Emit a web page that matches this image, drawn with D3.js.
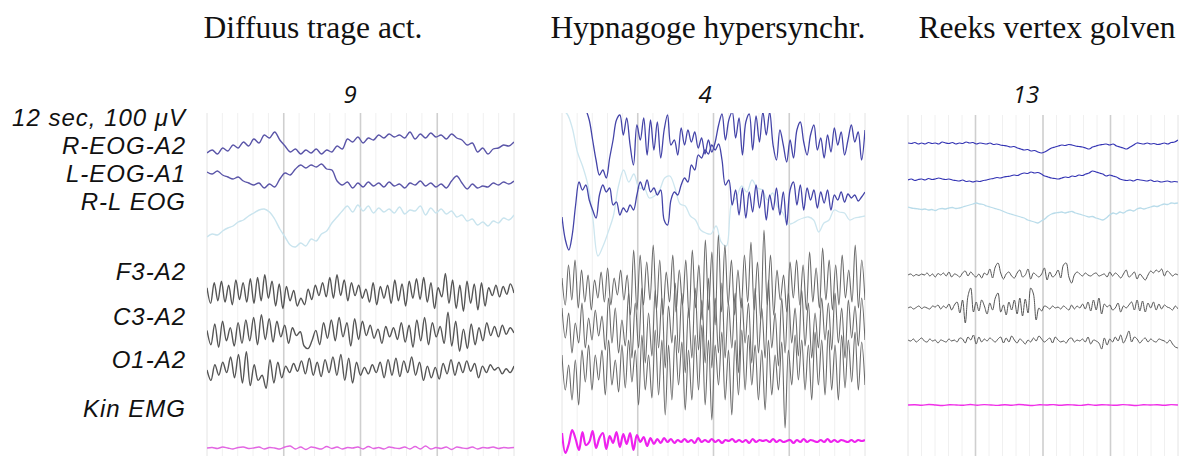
<!DOCTYPE html>
<html>
<head>
<meta charset="utf-8">
<script src="https://cdn.jsdelivr.net/npm/d3@7"></script>
<style>
  body { margin: 0; background: #fff; }
  svg { display: block; }
</style>
</head>
<body>
<div id="chart"></div>
<script>
// titles, counts and channel labels
var titles = ["Diffuus trage act.", "Hypnagoge hypersynchr.", "Reeks vertex golven"];
var counts = ["9", "4", "13"];
var channelLabels = ["12 sec, 100 μV", "R-EOG-A2", "L-EOG-A1", "R-L EOG", "F3-A2", "C3-A2", "O1-A2", "Kin EMG"];

// panel 1 - diffuus trage activiteit (values in display units, up = positive)
var p1_REOG = [-5,-2,-6,0,-3,3,0,6,2,9,5,13,10,16,8,2,-4,-1,-6,-2,-5,-1,-6,-2,-4,2,-1,9,6,11,5,10,8,13,10,14,11,13,10,16,9,14,10,15,11,13,9,14,10,8,3,5,-4,0,-6,-1,0,3,2,6];
var p1_LEOG = [3,1,4,0,-2,-4,-2,-6,-8,-10,-8,-13,-9,-12,-4,2,0,6,10,7,10,8,11,6,5,-6,-10,-7,-13,-8,-12,-7,-11,-8,-12,-7,-11,-9,-13,-8,-10,-6,-11,-8,-12,-9,-13,-6,-1,-8,-14,-9,-13,-11,-12,-8,-10,-7,-9,-6];
var p1_RL = [-12,-9,-10,-6,-3,-1,3,5,9,12,15,16,13,6,-4,-12,-20,-22,-18,-21,-14,-16,-9,-6,2,8,14,19,13,20,14,19,12,17,13,16,12,18,11,15,14,19,10,17,12,16,11,14,8,10,4,6,0,3,-1,4,2,7,5,10];
var p1_F3 = [4,-8,8,-6,9,-7,6,-9,10,-5,8,-7,11,-8,12,-6,14,-4,9,-10,7,-12,5,-6,2,-10,-4,-9,3,-5,6,-2,8,-3,12,-4,14,-2,10,-6,8,-2,6,-4,3,-7,8,-9,5,-4,6,-8,10,-6,7,-10,9,-4,11,-5,12,-7,8,-12,4,-3,15,-8,10,-12,6,-14,9,-8,7,-13,8,-10,4,-2,6,-3,5,-1,7,0];
var p1_C3 = [2,-9,7,-11,9,-6,4,-10,8,-8,10,-6,12,-9,14,-5,11,-7,9,-3,6,-8,4,-2,1,-10,-12,-6,2,-9,8,-4,10,-6,12,-3,8,-10,11,-5,9,-2,6,-4,3,-8,5,-3,4,-5,8,-7,6,-11,10,-6,12,-9,8,-3,5,-8,16,-10,9,-14,3,-12,7,-9,4,-6,8,-2,5,-3,6,-1,4,0];
var p1_O1 = [0,-8,4,-4,6,-2,10,-6,12,-10,14,-12,4,-8,-4,-14,8,-10,6,-6,3,-2,5,-1,7,-3,9,-4,6,-5,8,-2,10,-4,12,-8,9,-10,6,-4,2,-3,4,-2,6,-6,8,-4,9,-5,7,-2,10,-4,6,-8,3,-6,2,-7,5,-3,8,-4,6,-2,7,-1,5,-6,3,-2,4,0,2,-3,1,-2,3];
var p1_EMG = [0,0.5,-0.5,1,0,-1,0.5,1,-0.5,0,1,-1,0.5,0,-1,1,2,-1,1,-1.5,1,0,-1,1.5,-0.5,1,-1,0.5,0,1,-1,1.5,-0.5,0.5,-1,1,0,-0.5,1,-1,1.5,-1,2,-1,0.5,-0.5,1,-1.5,1,0,-0.5,1,-1,0.5,0,1,-0.5,0.5,0,0.5];

// panel 2 - hypnagoge hypersynchronie
var p2_REOG = [60,55,60,50,58,52,45,40,30,10,-10,-25,-20,-28,-8,10,30,35,15,32,5,-15,25,10,32,-5,30,0,28,-8,20,35,5,10,-5,22,5,20,8,18,2,12,-4,10,-2,8,25,36,10,30,38,12,32,-5,28,36,0,34,8,38,15,38,5,-10,20,5,-12,10,-8,20,28,8,-5,15,25,0,12,-8,15,-2,22,5,18,-5,10,25,8,18,-10,20];
var p2_LEOG = [-17,-40,-50,-35,-5,18,10,15,0,-10,-18,5,15,8,12,-5,-2,-15,-8,-12,-5,-10,5,18,10,20,8,12,5,10,-20,-25,0,8,5,15,22,18,35,30,45,42,50,46,55,50,56,40,15,20,-5,10,-15,12,-18,8,-12,15,-8,10,-20,5,-10,12,-15,8,-25,10,18,-5,15,-10,12,0,10,-8,8,-3,10,-10,5,0,8,-2,6,2,5,-1,3,8];
var p2_RL = [100,96,82,58,44,26,-8,-46,-36,-22,-6,24,40,28,36,22,22,12,14,20,32,34,22,6,4,-6,-10,-20,-23,-24,-16,-32,-36,6,13,24,18,30,22,20,10,17,3,-3,-14,-13,-10,-8,-7,-10,-22,-13,-10,0,-2,-3,-10,-8,-7,-6];
var p2_F3 = [12,-15,25,-10,30,-18,20,-12,15,-20,10,-8,18,-12,22,-15,12,-5,20,-10,15,-25,40,-20,35,-15,28,-10,45,-20,30,-25,18,-12,35,-22,20,-15,30,-28,40,-18,25,-30,50,-20,38,-35,55,-22,45,-15,30,-25,20,-18,35,-12,48,-20,28,-30,60,-15,35,-25,20,-10,15,-22,28,-8,30,-15,25,-20,38,-12,22,-18,42,-10,30,-20,25,-15,35,-8,20,-12,45,-18,30,-10];
var p2_C3 = [20,-10,15,-25,5,-15,25,-20,10,-12,18,-8,12,-22,30,-15,20,-25,8,-18,35,-30,25,-20,40,-35,15,-28,38,-20,30,-40,22,-15,45,-25,35,-45,20,-30,40,-22,28,-35,50,-40,30,-25,45,-30,25,-20,35,-45,30,-15,25,-35,40,-25,20,-30,48,-20,15,-38,30,-25,35,-15,20,-28,38,-18,25,-30,15,-20,30,-12,25,-22,35,-15,20,-30,28,-10,22,-18,30,-12];
var p2_O1 = [15,-20,5,-30,10,-35,20,-12,25,-20,15,-10,20,-25,30,-15,10,-22,25,-18,30,-12,20,-35,35,-20,15,-28,40,-25,30,-45,25,-30,35,-15,28,-40,20,-30,35,-20,45,-35,30,-50,25,-15,38,-30,20,-45,30,-25,40,-20,35,-15,25,-30,20,-40,30,-25,15,-20,28,-58,20,-15,35,-10,30,-20,25,-30,38,-15,30,-25,40,-20,25,-30,35,-18,30,-12,38,-20,28,-15];
var p2_EMG = [8,-12,-3,11,2,-9,9,-4,-1,10,-7,3,8,-8,5,-2,9,-6,7,-3,8,-9,6,-1,4,-5,3,-3,2,-2,3,-1,2,-2,1,-1,2,-1,1,-2,3,-1,1,-1,2,-1,1,-2,1,0,2,-1,1,-1,1,-2,2,-1,1,0,1,-1,2,-1,1,-1,0,1,-2,1,-1,2,-1,1,0,-1,1,-1,2,-1,1,-1,1,0,-1,1,-1,1,0,1];

// panel 3 - reeks vertex golven
var p3_REOG = [2,1.5,2.5,1,2,1,2.5,1.5,2,1,3,2,1.5,2.5,1,2,1.5,3,2,2.5,1,2,1.5,1,2,0.5,1,0,-0.5,-1,-2,-1.5,-3,-4,-5,-4.5,-6,-5.5,-7,-8,-7,-5,-3,-2,-1,0,-0.5,0.5,0,-1,-1.5,-2,-3,-4,-2,-1,0,0.5,1,0,1,-1,-2,-3,-4,-2,0,2,1.5,1,2,1,1.5,0.5,1,2,1,2.5,3,5];
var p3_LEOG = [0,1,-0.5,0.5,1,0,1.5,0.5,1,2,1,0.5,1,0,-0.5,-1,0,-1.5,-1,-2,-1,-1.5,-0.5,0,1,1.5,2.5,2,3,3.5,4,5,4.5,6,7,6.5,8,7,7.5,6,4,3,2,1.5,1,2,3,2.5,4,3.5,5,4.5,6,7,9,8,7,6,4,5,4,3,1,0,-0.5,0,-1,0.5,0,-0.5,-1,0,-1.5,-1,-2,-1.5,-1,-2,-1.5,-2];
var p3_RL = [1,0,-0.5,-1,-1.5,-1,-2,-1.5,-2.5,-1,-0.5,-1,0,0.5,-0.5,0,1,2,3,4,5,4,3.5,2,1,0,-1,-2,-3.5,-5,-6,-7,-8,-9,-10,-12,-13,-14,-15,-13,-11,-8,-6,-5,-4.5,-4,-5,-4,-3.5,-5,-6,-7,-8,-9,-8.5,-10,-11,-12,-10,-7,-5,-6,-4,-5,-3,-2,-3,-1,0,-1,0,1,2,1.5,3,4,3.5,5,4.5,5];
var p3_F3 = [0,1,-1,0.5,-0.5,1,0,2,-1,1,-2,1.5,0,2,-1,3,-2,1,0,-2,2,4,-1,3,0,-2,1,-3,2,0,6,-3,8,12,2,-4,1,3,-1,-3,2,5,-2,0,6,-4,2,0,-2,1,7,-5,3,-2,0,5,-3,10,12,-2,-8,0,3,1,-1,2,0,-1,1,2,-1,0,1,-2,3,-1,2,0,-3,1,5,-2,0,3,-4,1,-2,-5,0,4,2,5,3,6,-1,4,2,-1,1,0];
var p3_C3 = [0,1,-1,0.5,2,-0.5,1,0,-1,2,1,3,-1,2,0,4,-2,3,6,-5,8,-15,12,20,-4,6,-3,8,2,-6,5,-2,10,15,-4,3,-7,6,-2,8,-6,10,-8,9,-5,20,14,-12,0,-3,2,1,-1,2,0,1,-1,2,0,-2,3,-1,2,0,4,-1,6,-3,8,-2,10,-6,4,1,3,-2,0,5,-4,2,0,3,6,-2,8,-3,7,-4,5,0,6,-2,4,-1,3,1,0,-2,2,-1];
var p3_O1 = [1,0,2,-1,1,3,0,-1,2,0,1,-2,1,0,-1,2,0,1,-1,3,2,-2,4,1,6,-3,4,-1,2,0,3,1,-1,2,4,-2,3,-1,5,1,-2,2,0,-3,1,-1,3,0,5,2,-1,1,3,-2,4,1,-1,0,-2,2,3,-1,1,0,2,-1,4,-3,1,0,-2,-8,3,-4,2,-1,4,0,6,-2,3,10,-1,4,2,-2,1,3,-1,2,0,-1,2,1,0,-2,1,-3,-6,-7];
var p3_EMG = [0,0.3,-0.3,0.5,0,-0.5,0.3,0,-0.3,0.5,-0.2,0.4,0,-0.4,0.3,-0.3,0.5,0,-0.5,0.2,0,0.4,-0.3,0.3,0,-0.4,0.5,-0.2,0.3,0,-0.3,0.4,0,-0.5,0.3,0,0.2,-0.3,0.4,0];

var W = 1186, H = 456;

var svg = d3.select("#chart")
    .append("svg")
    .attr("width", W)
    .attr("height", H)
    .style("font-family", "'Liberation Sans', Arial, sans-serif");

// panel layout (gain = display px per data unit)
var panels = [
    { x0: 207, x1: 514, top: 113, bottom: 456,
      traces: [
        { data: p1_REOG, base: 148, color: "#5a55a8", w: 1.4, gain: 1 },
        { data: p1_LEOG, base: 175, color: "#5a55a8", w: 1.4, gain: 1 },
        { data: p1_RL, base: 225, color: "#c9e4ee", w: 1.4, gain: 1 },
        { data: p1_F3, base: 293, color: "#555", w: 1.4, gain: 1.3 },
        { data: p1_C3, base: 333, color: "#555", w: 1.4, gain: 1.3 },
        { data: p1_O1, base: 370, color: "#555", w: 1.4, gain: 1.3 },
        { data: p1_EMG, base: 448, color: "#e266e2", w: 1.4, gain: 1 }
      ] },
    { x0: 562, x1: 865, top: 113, bottom: 456,
      traces: [
        { data: p2_RL, base: 210, color: "#cde6ef", w: 1.3, gain: 1 },
        { data: p2_REOG, base: 150, color: "#4444a8", w: 1.3, gain: 1 },
        { data: p2_LEOG, base: 200, color: "#4444a8", w: 1.3, gain: 1 },
        { data: p2_F3, base: 290, color: "#6a6a6a", w: 1.1, gain: 1 },
        { data: p2_C3, base: 328, color: "#6a6a6a", w: 1.1, gain: 1 },
        { data: p2_O1, base: 370, color: "#6a6a6a", w: 1.1, gain: 1 },
        { data: p2_EMG, base: 441, color: "#ee22ee", w: 2.2, gain: 1 }
      ] },
    { x0: 908, x1: 1178, top: 115, bottom: 456,
      traces: [
        { data: p3_REOG, base: 145, color: "#3434b4", w: 1.2, gain: 1 },
        { data: p3_LEOG, base: 180, color: "#3434b4", w: 1.2, gain: 1 },
        { data: p3_RL, base: 208, color: "#b9dcea", w: 1.3, gain: 1 },
        { data: p3_F3, base: 275, color: "#555", w: 1, gain: 1 },
        { data: p3_C3, base: 308, color: "#555", w: 1, gain: 1 },
        { data: p3_O1, base: 341, color: "#555", w: 1, gain: 1 },
        { data: p3_EMG, base: 405, color: "#f030e8", w: 1.4, gain: 1 }
      ] }
];

// titles
svg.selectAll(".title")
    .data(titles)
    .enter()
    .append("text")
    .attr("x", (d, i) => [313, 708, 1047][i])
    .attr("y", 38)
    .attr("text-anchor", "middle")
    .style("font-family", "'Liberation Serif', 'Times New Roman', serif")
    .style("font-size", "31.5px")
    .attr("fill", "#111")
    .text(d => d);

// counts
svg.selectAll(".count")
    .data(counts)
    .enter()
    .append("text")
    .attr("x", (d, i) => [350, 705, 1026][i])
    .attr("y", 103)
    .attr("text-anchor", "middle")
    .style("font-family", "'Open Sans', sans-serif")
    .style("font-style", "italic")
    .style("font-size", "24px")
    .attr("fill", "#111")
    .text(d => d);

// channel labels
var labelY = [126, 154, 182, 210, 280, 325, 368, 417];
svg.selectAll(".label")
    .data(channelLabels)
    .enter()
    .append("text")
    .attr("x", 186)
    .attr("y", (d, i) => labelY[i])
    .attr("text-anchor", "end")
    .style("font-style", "italic")
    .style("font-size", "24px")
    .style("letter-spacing", "1px")
    .attr("fill", "#111")
    .text(d => d);

// time axis: 12 sec, grid every 0.6 sec, major every 3 sec
var gridTicks = d3.range(0, 21).map(k => k * 0.6);

panels.forEach(function (p, pi) {
    var t = d3.scaleLinear().domain([0, 12]).range([p.x0, p.x1]);

    var g = svg.append("g");

    g.append("clipPath")
        .attr("id", "clip" + pi)
        .append("rect")
        .attr("x", p.x0)
        .attr("y", p.top)
        .attr("width", p.x1 - p.x0)
        .attr("height", p.bottom - p.top);

    // grid
    g.selectAll(".grid")
        .data(gridTicks)
        .enter()
        .append("line")
        .attr("x1", d => t(d))
        .attr("x2", d => t(d))
        .attr("y1", p.top)
        .attr("y2", p.bottom)
        .attr("stroke", (d, i) => (i % 5 === 0 && i > 0 && i < 20) ? "#cfcfcf" : (i === 0 || i === 20 ? "#e4e4e4" : "#f0f0f0"))
        .attr("stroke-width", (d, i) => (i % 5 === 0 && i > 0 && i < 20) ? 1.6 : 1);

    var traces = g.append("g").attr("clip-path", "url(#clip" + pi + ")");

    p.traces.forEach(function (tr) {
        var x = d3.scaleLinear().domain([0, tr.data.length - 1]).range([p.x0, p.x1]);
        var span = 50 / tr.gain;
        var y = d3.scaleLinear().domain([-span, span]).range([tr.base + 50, tr.base - 50]);
        var line = d3.line()
            .x((d, i) => x(i))
            .y(d => y(d))
            .curve(d3.curveCatmullRom);
        traces.append("path")
            .datum(tr.data)
            .attr("d", line)
            .attr("fill", "none")
            .attr("stroke", tr.color)
            .attr("stroke-width", tr.w)
            .attr("stroke-linejoin", "round");
    });
});
</script>
</body>
</html>
